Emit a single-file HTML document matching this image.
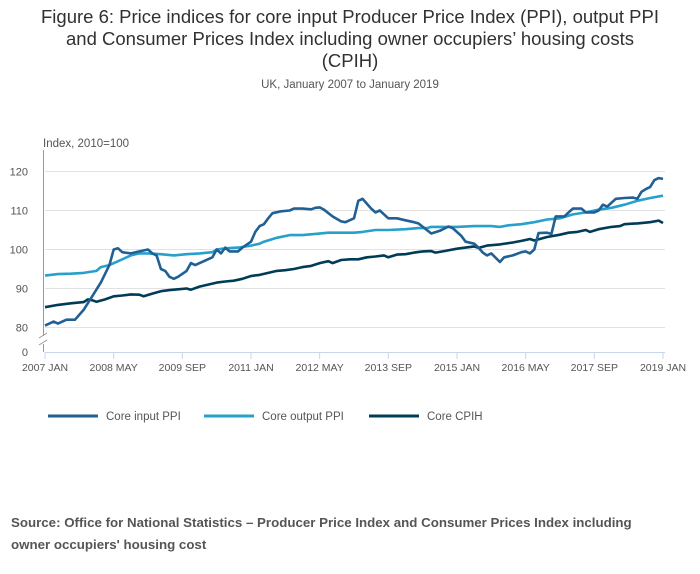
<!DOCTYPE html>
<html><head><meta charset="utf-8"><style>
body{margin:0;background:#fff;font-family:"Liberation Sans",sans-serif;}
#wrap{position:relative;width:700px;height:574px;}
.title{position:absolute;left:0;top:6px;width:700px;text-align:center;font-size:18.5px;line-height:22px;color:#323132;}
.sub{position:absolute;left:0;top:79px;width:700px;text-align:center;font-size:11.5px;color:#555;}
.src{position:absolute;left:11px;top:512px;width:670px;font-size:13.3px;font-weight:bold;line-height:22px;color:#555;}
</style></head><body><div id="wrap">
<div class="title">Figure 6: Price indices for core input Producer Price Index (PPI), output PPI<br>and Consumer Prices Index including owner occupiers’ housing costs<br>(CPIH)</div>
<div class="sub">UK, January 2007 to January 2019</div>
<svg id="chart" width="700" height="574" style="position:absolute;left:0;top:0"></svg>
<div class="src">Source: Office for National Statistics – Producer Price Index and Consumer Prices Index including<br>owner occupiers' housing cost</div>
</div>
<script>
const yTicks=[80,90,100,110,120];
const xTickLabels=["2007 JAN","2008 MAY","2009 SEP","2011 JAN","2012 MAY","2013 SEP","2015 JAN","2016 MAY","2017 SEP","2019 JAN"];
const xTickMonths=[0,16,32,48,64,80,96,112,128,144];
const inputMonths=[0,2,3,5,7,9,11,13,15,16,17,18,20,22,24,25,26,27,28,29,30,31,33,34,35,37,39,40,41,42,43,45,46,48,49,50,51,52,53,55,57,58,60,62,63,64,65,67,69,70,72,73,74,76,77,78,80,82,84,86,87,90,92,94,95,97,98,100,101,102,103,104,106,107,109,111,112,113,114,115,117,118,119,121,122,123,125,126,128,129,130,131,132,133,135,137,138,139,140,141,142,143,144];
const inputValues=[80.5,81.5,81,82,82,84.5,88,91.5,96,100,100.3,99.3,99,99.5,100,99,98.5,95,94.5,93,92.5,93,94.5,96.5,96,97,98,100,99,100.5,99.5,99.5,100.5,102,104.5,106,106.5,108,109.3,109.8,110,110.5,110.5,110.3,110.7,110.8,110.2,108.5,107.2,107,108,112.5,113,110.5,109.5,110,108,108,107.5,107,106.7,104.1,104.8,105.9,105.5,103.5,102,101.5,100.5,99.2,98.5,99,96.8,98,98.5,99.3,99.5,99,100,104.2,104.3,104,108.5,108.5,109.5,110.5,110.5,109.5,109.5,110,111.5,111,112,113,113.2,113.3,113,114.8,115.5,116,117.8,118.3,118.1];
const outputMonths=[0,3,6,9,12,13,15,18,20,22,24,27,30,33,36,39,40,42,45,48,50,51,54,57,60,63,66,69,72,74,77,80,84,87,89,90,93,96,100,104,106,108,111,114,117,120,123,126,129,132,135,138,141,144];
const outputValues=[93.3,93.7,93.8,94,94.5,95.5,96,97.5,98.5,99,99,98.8,98.5,98.8,99,99.3,100,100.3,100.5,101,101.5,102,103,103.7,103.7,104,104.3,104.3,104.3,104.5,105,105,105.2,105.5,105.5,105.8,105.8,105.8,106,106,105.8,106.2,106.5,107,107.7,108,109,109.5,110.2,110.7,111.5,112.5,113.2,113.8];
const cpihMonths=[0,3,6,9,10,11,12,14,16,18,20,22,23,25,27,29,31,33,34,36,38,40,42,44,46,48,50,52,54,56,58,60,62,64,66,67,69,71,73,75,77,79,80,82,84,86,88,90,91,93,96,98,100,101,103,106,109,111,113,114,117,120,122,124,126,127,129,132,134,135,138,141,143,144];
const cpihValues=[85.2,85.8,86.2,86.5,87.2,87,86.6,87.2,88,88.2,88.5,88.4,88,88.7,89.3,89.6,89.8,90,89.7,90.5,91,91.5,91.8,92,92.5,93.2,93.5,94,94.5,94.7,95,95.5,95.8,96.5,97,96.5,97.3,97.5,97.5,98,98.2,98.5,98,98.7,98.8,99.2,99.5,99.6,99.2,99.6,100.2,100.5,100.8,100.4,101,101.3,101.8,102.2,102.7,102.3,103.2,103.8,104.3,104.5,105,104.5,105.2,105.8,106,106.5,106.7,107,107.4,106.8];
const svg=document.getElementById('chart');const NS='http://www.w3.org/2000/svg';
const X0=45,X1=663,Y80=327.5,PX=3.9;
function xS(m){return X0+(X1-X0)*m/144;}
function yS(v){return Y80-(v-80)*PX;}
function mk(t,a,p){const e=document.createElementNS(NS,t);for(const k in a)e.setAttribute(k,a[k]);(p||svg).appendChild(e);return e;}
yTicks.forEach(v=>{const g=mk('line',{x1:X0,x2:X1+2,y1:yS(v),y2:yS(v),stroke:'#e2e2e2','stroke-width':1});


const t=mk('text',{x:28,y:yS(v)+4,'text-anchor':'end','font-size':11,fill:'#555'});t.textContent=v;

});
const z=mk('text',{x:28,y:356,'text-anchor':'end','font-size':11,fill:'#555'});z.textContent='0';


const yl=mk('text',{x:43,y:147,'font-size':11.5,fill:'#555'});yl.textContent='Index, 2010=100';


const ya=mk('path',{d:'M43.5 150V336M43.5 344V352',stroke:'#999',fill:'none'});


const br=mk('path',{d:'M39 338L47 333M39 345L47 340',stroke:'#999',fill:'none'});


const xa=mk('line',{x1:X0,x2:X1+2,y1:352.5,y2:352.5,stroke:'#c8d6ea'});


xTickMonths.forEach((m,i)=>{const l=mk('line',{x1:xS(m),x2:xS(m),y1:352,y2:359,stroke:'#c8d6ea'});


const t=mk('text',{x:xS(m),y:371,'text-anchor':'middle','font-size':10.5,fill:'#555'});t.textContent=xTickLabels[i];

});
function line(ms,vs,col,name){const d=ms.map((m,i)=>(i?'L':'M')+xS(m).toFixed(1)+' '+yS(vs[i]).toFixed(1)).join('');
const p=mk('path',{d:d,stroke:col,'stroke-width':2.6,fill:'none','stroke-linejoin':'round'});

}
line(cpihMonths,cpihValues,'#003c57','line-core-cpih');
line(outputMonths,outputValues,'#27a0cc','line-core-output-ppi');
line(inputMonths,inputValues,'#206095','line-core-input-ppi');
const leg=[['Core input PPI','#206095',48],['Core output PPI','#27a0cc',204],['Core CPIH','#003c57',369]];
leg.forEach(l=>{const g=mk('g',{});


mk('line',{x1:l[2],x2:l[2]+50,y1:416,y2:416,stroke:l[1],'stroke-width':3},g);
const t=mk('text',{x:l[2]+58,y:420,'font-size':11.5,fill:'#555'},g);t.textContent=l[0];});
</script></body></html>
